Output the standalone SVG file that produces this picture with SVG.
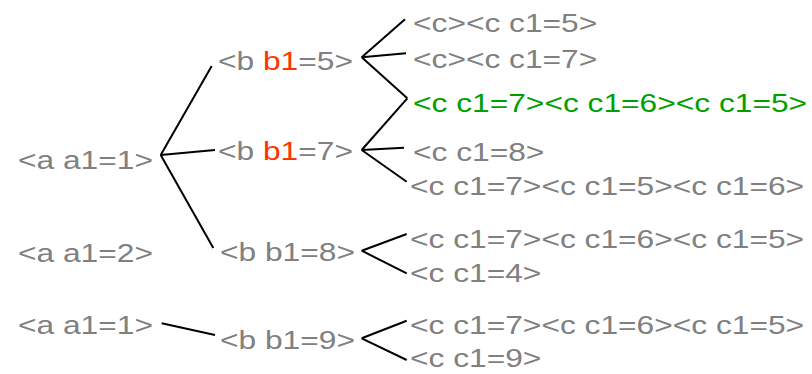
<svg xmlns="http://www.w3.org/2000/svg" width="812" height="374" viewBox="0 0 812 374">
<style>
text{font-family:"Liberation Sans",Arial,Helvetica,sans-serif;font-size:26px;fill:#808080}
.r{fill:#ff3300}
.g{fill:#00a000}
#connectors line{stroke:#000;stroke-width:2;stroke-linecap:butt}
</style>
<rect width="812" height="374" fill="#fff"/>
<g id="connectors">
<line x1="160.7" y1="155" x2="211.7" y2="66"/>
<line x1="160.7" y1="155" x2="215" y2="150"/>
<line x1="160.7" y1="155" x2="213.3" y2="248"/>
<line x1="161.7" y1="323.3" x2="215" y2="335"/>
<line x1="361.7" y1="57.3" x2="405" y2="19.3"/>
<line x1="361.7" y1="57.3" x2="406" y2="53.3"/>
<line x1="361.7" y1="57.3" x2="407.3" y2="98.3"/>
<line x1="361.7" y1="150" x2="407.3" y2="98.3"/>
<line x1="361.7" y1="150" x2="404" y2="147.7"/>
<line x1="361.7" y1="150" x2="406.7" y2="181.7"/>
<line x1="361.7" y1="250.7" x2="406.7" y2="234"/>
<line x1="361.7" y1="250.7" x2="406.7" y2="273.3"/>
<line x1="361.7" y1="338.3" x2="406.7" y2="320.7"/>
<line x1="361.7" y1="338.3" x2="406.7" y2="360"/>
</g>
<g id="a1"><text transform="translate(18,169) scale(1.22,1)">&lt;a a1=1&gt;</text></g>
<g id="a2"><text transform="translate(18,262) scale(1.22,1)">&lt;a a1=2&gt;</text></g>
<g id="a3"><text transform="translate(18,334) scale(1.22,1)">&lt;a a1=1&gt;</text></g>
<g id="b5"><text transform="translate(218,70) scale(1.22,1)">&lt;b <tspan class="r">b1</tspan>=5&gt;</text></g>
<g id="b7"><text transform="translate(218,160) scale(1.22,1)">&lt;b <tspan class="r">b1</tspan>=7&gt;</text></g>
<g id="b8"><text transform="translate(220,261) scale(1.22,1)">&lt;b b1=8&gt;</text></g>
<g id="b9"><text transform="translate(220,349) scale(1.22,1)">&lt;b b1=9&gt;</text></g>
<g id="c1"><text transform="translate(413,32) scale(1.22,1)">&lt;c&gt;&lt;c c1=5&gt;</text></g>
<g id="c2"><text transform="translate(413,68) scale(1.22,1)">&lt;c&gt;&lt;c c1=7&gt;</text></g>
<g id="c3"><text class="g" transform="translate(413,112) scale(1.22,1)">&lt;c c1=7&gt;&lt;c c1=6&gt;&lt;c c1=5&gt;</text></g>
<g id="c4"><text transform="translate(413,161) scale(1.22,1)">&lt;c c1=8&gt;</text></g>
<g id="c5"><text transform="translate(410,195) scale(1.22,1)">&lt;c c1=7&gt;&lt;c c1=5&gt;&lt;c c1=6&gt;</text></g>
<g id="c6"><text transform="translate(410,248) scale(1.22,1)">&lt;c c1=7&gt;&lt;c c1=6&gt;&lt;c c1=5&gt;</text></g>
<g id="c7"><text transform="translate(410,282) scale(1.22,1)">&lt;c c1=4&gt;</text></g>
<g id="c8"><text transform="translate(410,334) scale(1.22,1)">&lt;c c1=7&gt;&lt;c c1=6&gt;&lt;c c1=5&gt;</text></g>
<g id="c9"><text transform="translate(410,367) scale(1.22,1)">&lt;c c1=9&gt;</text></g>
</svg>
